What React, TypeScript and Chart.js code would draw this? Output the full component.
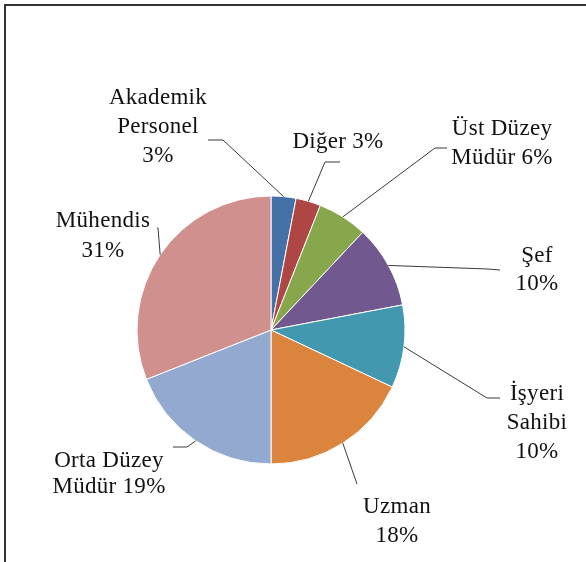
import React, { useEffect, useRef, useState } from "react";
import { Chart, registerables } from "chart.js";

Chart.register(...registerables);

// ---- data ----
const categories = [
  "Akademik Personel",
  "Diğer",
  "Üst Düzey Müdür",
  "Şef",
  "İşyeri Sahibi",
  "Uzman",
  "Orta Düzey Müdür",
  "Mühendis",
];
const values = [3, 3, 6, 10, 10, 18, 19, 31];
const sliceColors = [
  "#4472A8",
  "#AE4644",
  "#88A64B",
  "#71588F",
  "#4198AF",
  "#DB843D",
  "#93A9CF",
  "#D0908E",
];
// how each category name is broken into lines on its label
const nameLines = [
  ["Akademik", "Personel"],
  ["Diğer"],
  ["Üst Düzey", "Müdür"],
  ["Şef"],
  ["İşyeri", "Sahibi"],
  ["Uzman"],
  ["Orta Düzey", "Müdür"],
  ["Mühendis"],
];
// whether the percentage sits on the last name line
const pctInline = [false, true, true, false, false, false, true, false];

// ---- label layout (px offsets from pie centre; dy = first baseline) ----
const labelLayout = [
  { dx: -113, dy: -226, gap: 29, elbow: [-48, -190], end: [-63, -190] },
  { dx: 67, dy: -182, gap: 29, elbow: [54, -168], end: [69, -168] },
  { dx: 231, dy: -195, gap: 29, elbow: [164, -182], end: [176, -182] },
  { dx: 266, dy: -67, gap: 28, elbow: [217, -61], end: [229, -60] },
  { dx: 266, dy: 70, gap: 29, elbow: [216, 68], end: [229, 68] },
  { dx: 126, dy: 183, gap: 29, elbow: [86, 154], end: [86, 154] },
  { dx: -162, dy: 138, gap: 26, elbow: [-84, 117], end: [-98, 117] },
  { dx: -168, dy: -102, gap: 30, elbow: [-113, -102], end: [-114, -102] },
];

const W = 586;
const H = 562;
const FONT_SIZE = 23;
const FONT_FAMILY = '"Liberation Serif", "Times New Roman", serif';
const ASC = 0.891;
const DESC = 0.216;

const leaderPlugin = {
  id: "leaderLines",
  afterDraw(chart: any) {
    const ctx = chart.ctx;
    const meta = chart.getDatasetMeta(0);
    ctx.save();
    meta.data.forEach((arc: any, i: number) => {
      const p = arc.getProps(["x", "y", "startAngle", "endAngle", "outerRadius"], true);
      const mid = (p.startAngle + p.endAngle) / 2;
      const ex = p.x + Math.cos(mid) * p.outerRadius;
      const ey = p.y + Math.sin(mid) * p.outerRadius;
      const L = labelLayout[i];
      ctx.strokeStyle = "#3a3a3a";
      ctx.lineWidth = 1;
      ctx.beginPath();
      ctx.moveTo(ex, ey);
      ctx.lineTo(p.x + L.elbow[0], p.y + L.elbow[1]);
      ctx.lineTo(p.x + L.end[0], p.y + L.end[1]);
      ctx.stroke();
    });
    ctx.restore();
  },
};

type LabelBox = { left: number; top: number; gap: number; lines: string[] };

export default function App() {
  const ref = useRef<HTMLCanvasElement | null>(null);
  const [boxes, setBoxes] = useState<LabelBox[]>([]);

  useEffect(() => {
    if (!ref.current) return;
    const cx = 271;
    const cy = 330;
    const r = 134.5;
    const chart = new Chart(ref.current, {
      type: "pie",
      data: {
        labels: categories,
        datasets: [
          {
            data: values,
            backgroundColor: sliceColors,
            borderColor: "#ffffff",
            borderWidth: 1,
          },
        ],
      },
      options: {
        responsive: false,
        maintainAspectRatio: false,
        animation: false,
        devicePixelRatio: 1,
        layout: {
          padding: {
            left: cx - r,
            right: W - (cx + r),
            top: cy - r,
            bottom: H - (cy + r),
          },
        },
        plugins: {
          legend: { display: false },
          tooltip: { enabled: false },
          title: { display: false },
        },
      },
      plugins: [leaderPlugin],
    });

    const meta = chart.getDatasetMeta(0);
    const ds = chart.data.datasets[0].data as number[];
    const total = ds.reduce((a, b) => a + b, 0);
    const out: LabelBox[] = meta.data.map((arc: any, i: number) => {
      const p = arc.getProps(["x", "y"], true);
      const L = labelLayout[i];
      const pct = Math.round((ds[i] / total) * 100) + "%";
      const lines = nameLines[i].slice();
      if (pctInline[i]) lines[lines.length - 1] = lines[lines.length - 1] + " " + pct;
      else lines.push(pct);
      const baseOff = (L.gap - (ASC + DESC) * FONT_SIZE) / 2 + ASC * FONT_SIZE;
      return {
        left: p.x + L.dx,
        top: p.y + L.dy - baseOff,
        gap: L.gap,
        lines,
      };
    });
    setBoxes(out);
    return () => chart.destroy();
  }, []);

  return (
    <div
      style={{
        position: "absolute",
        left: 0,
        top: 0,
        width: W,
        height: H,
        overflow: "hidden",
        background: "#fff",
      }}
    >
      <canvas
        ref={ref}
        width={W}
        height={H}
        style={{ position: "absolute", left: 0, top: 0, width: W, height: H }}
      />
      {boxes.map((b, i) => (
        <div
          key={i}
          style={{
            position: "absolute",
            left: b.left - 150,
            width: 300,
            top: b.top,
            textAlign: "center",
            whiteSpace: "nowrap",
            fontFamily: FONT_FAMILY,
            fontSize: FONT_SIZE,
            letterSpacing: "0.3px",
            lineHeight: b.gap + "px",
            color: "#111",
          }}
        >
          {b.lines.map((t, k) => (
            <div key={k}>{t}</div>
          ))}
        </div>
      ))}
      <div
        style={{
          position: "absolute",
          left: 4,
          top: 4,
          width: 800,
          height: 800,
          borderTop: "2px solid #333",
          borderLeft: "2px solid #333",
        }}
      />
    </div>
  );
}
